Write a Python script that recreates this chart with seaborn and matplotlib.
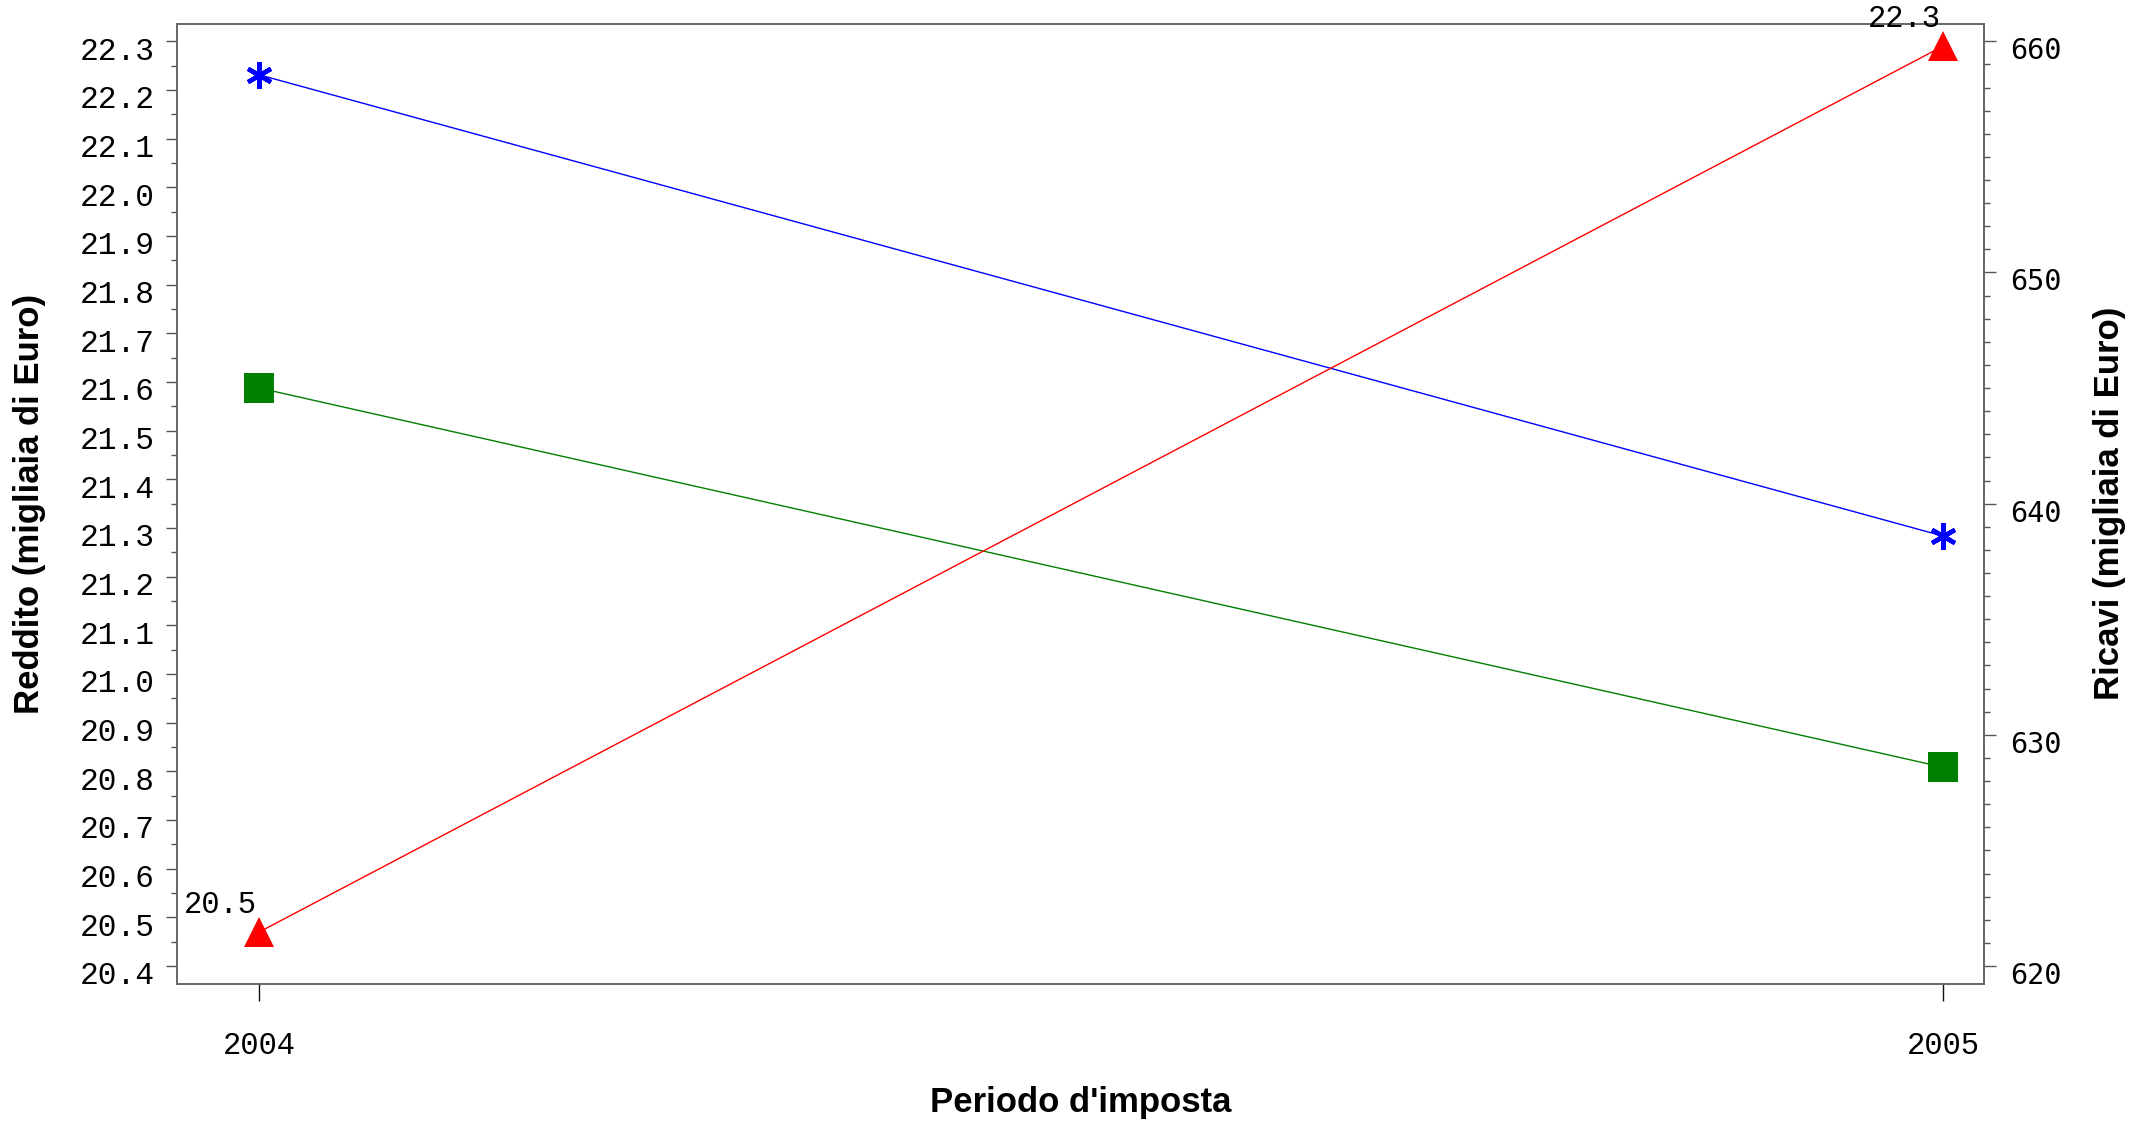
import numpy as np
import pandas as pd
import seaborn as sns
import matplotlib.pyplot as plt
import matplotlib.transforms as mtransforms
from matplotlib.ticker import MultipleLocator, FormatStrFormatter

# values
anni = [2004, 2005]
reddito = [20.47, 22.29]          # red triangles, left axis
ricavi_blu = [658.55, 638.6]      # blue asterisks, right axis
ricavi_verde = [645.0, 628.6]     # green squares, right axis
etichette_reddito = ["20.5", "22.3"]

sns.set_style("ticks")
plt.rcParams['font.family'] = ['Liberation Mono', 'DejaVu Sans']
plt.rcParams['text.color'] = 'black'
plt.rcParams['axes.labelcolor'] = 'black'
plt.rcParams['xtick.labelcolor'] = 'black'
plt.rcParams['ytick.labelcolor'] = 'black'

fig, ax = plt.subplots(figsize=(21.49, 11.22), dpi=100)
fig.subplots_adjust(left=177 / 2149, right=1984 / 2149, bottom=1 - 984 / 1122, top=1 - 24 / 1122)
ax2 = ax.twinx()

df_red = pd.DataFrame({"anno": anni, "valore": reddito})
df_blu = pd.DataFrame({"anno": anni, "valore": ricavi_blu})
df_verde = pd.DataFrame({"anno": anni, "valore": ricavi_verde})

sns.lineplot(data=df_blu, x="anno", y="valore", ax=ax2, color="#0000FF", lw=1,
             marker=(6, 2, 0), markersize=19, markeredgecolor="#0000FF", markeredgewidth=3.2)
sns.lineplot(data=df_verde, x="anno", y="valore", ax=ax2, color="#008000", lw=1,
             marker="s", markersize=21, markeredgecolor="#008000", markeredgewidth=0)
sns.lineplot(data=df_red, x="anno", y="valore", ax=ax, color="#FF0000", lw=1,
             marker="^", markersize=22, markeredgecolor="#FF0000", markeredgewidth=0)
ax.set_zorder(ax2.get_zorder() + 1)
ax.patch.set_visible(False)

# value labels above the red triangles
for x, y, t in zip(anni, reddito, etichette_reddito):
    ax.annotate(t, (x, y), xytext=(-1.5, 13.5), textcoords="offset points",
                ha="right", va="baseline", fontsize=22, color="black",
                family="Liberation Mono", annotation_clip=False)

ax.set_xlim(2004 - 0.0489, 2005 + 0.0244)
ax.set_ylim(20.363, 22.3356)
ax2.set_ylim(619.22, 660.75)

ax.set_xticks(anni)
ax.set_xticklabels([str(a) for a in anni])
ax.yaxis.set_major_locator(MultipleLocator(0.1))
ax.yaxis.set_minor_locator(MultipleLocator(0.05))
ax.yaxis.set_major_formatter(FormatStrFormatter("%.1f"))
ax2.yaxis.set_major_locator(MultipleLocator(10))
ax2.yaxis.set_minor_locator(MultipleLocator(1))

ax.tick_params(axis="y", which="major", length=8, width=1, color="#555555", pad=8, labelsize=22.5)
ax.tick_params(axis="y", which="minor", length=4.3, width=1, color="#555555")
ax.tick_params(axis="x", which="major", length=12, width=1, color="#111111", pad=22, labelsize=22)
ax2.tick_params(axis="y", which="major", length=8.5, width=1, color="#555555", pad=10, labelsize=20.5)
ax2.tick_params(axis="y", which="minor", length=4.3, width=1, color="#555555")
for lab in ax2.get_yticklabels():
    lab.set_family("DejaVu Sans Mono")
for a in (ax, ax2):
    for s in a.spines.values():
        s.set_visible(True)
        s.set_color("#666666")
        s.set_linewidth(1.2)

# y tick labels sit slightly below their ticks in the original
shift = mtransforms.ScaledTranslation(0, -5 / 72, fig.dpi_scale_trans)
for a in (ax, ax2):
    for lab in a.get_yticklabels():
        lab.set_transform(lab.get_transform() + shift)

lab_font = dict(family="Liberation Sans", weight="bold", color="black")
ax.set_xlabel("Periodo d'imposta", fontsize=25, **lab_font)
ax.xaxis.set_label_coords(0.5, -0.123)
ax.xaxis.label.set_va("center")
ax.set_ylabel("Reddito (migliaia di Euro)", fontsize=25, **lab_font)
ax.yaxis.set_label_coords(-0.0819, 0.50)
ax.yaxis.label.set_va("center")
ax2.set_ylabel("Ricavi (migliaia di Euro)", fontsize=25, **lab_font)
ax2.yaxis.set_label_coords(1.0692, 0.501)
ax2.yaxis.label.set_va("center")

plt.savefig("out.png", dpi=100)
